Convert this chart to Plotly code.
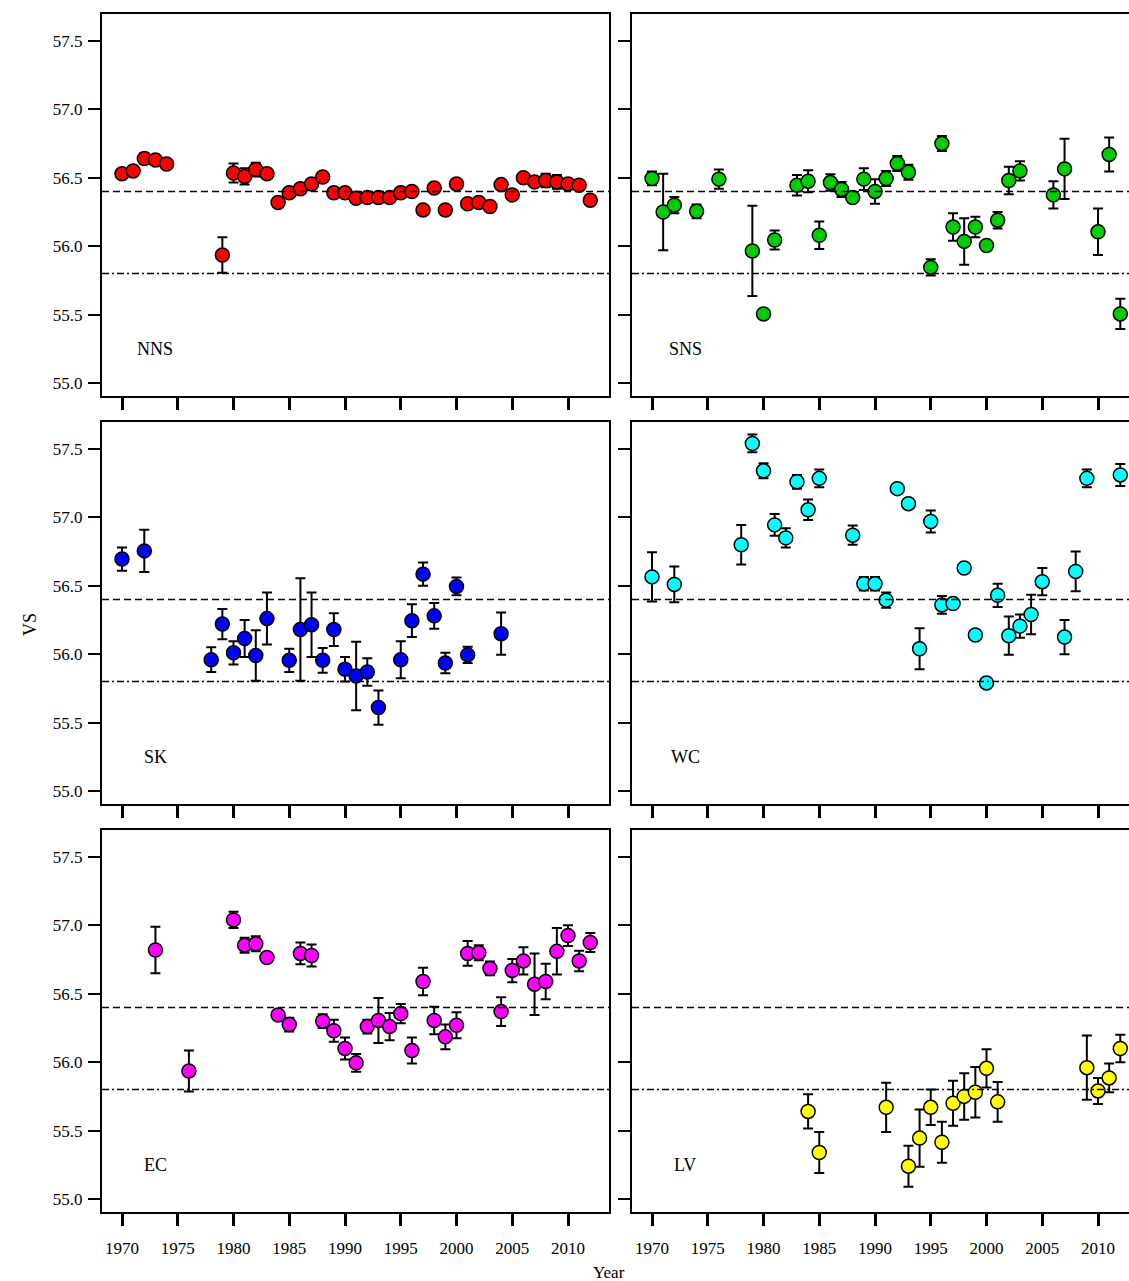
import plotly.graph_objects as go

# ---------------- data ----------------
panel_names = ["NNS", "SNS", "SK", "WC", "EC", "LV"]
panel_colors = ["#FF0000", "#00CD00", "#0000FF", "#00FFFF", "#FF00FF", "#FFFF00"]

nns_year = [1970, 1971, 1972, 1973, 1974, 1979, 1980, 1981, 1982, 1983,
            1984, 1985, 1986, 1987, 1988, 1989, 1990, 1991, 1992, 1993,
            1994, 1995, 1996, 1997, 1998, 1999, 2000, 2001, 2002, 2003,
            2004, 2005, 2006, 2007, 2008, 2009, 2010, 2011, 2012]
nns_vs = [56.53, 56.55, 56.64, 56.63, 56.60, 55.935, 56.535, 56.51, 56.56, 56.53,
          56.32, 56.39, 56.42, 56.455, 56.505, 56.39, 56.39, 56.35, 56.355, 56.355,
          56.355, 56.39, 56.40, 56.265, 56.425, 56.265, 56.455, 56.31, 56.32, 56.29,
          56.45, 56.375, 56.50, 56.47, 56.48, 56.47, 56.455, 56.445, 56.335]
nns_err = [0.02, 0.03, 0.04, 0.02, 0.01, 0.13, 0.07, 0.06, 0.05, 0.02,
           0.01, 0.01, 0.01, 0.01, 0.01, 0.01, 0.01, 0.01, 0.01, 0.01,
           0.01, 0.01, 0.01, 0.01, 0.01, 0.01, 0.01, 0.01, 0.01, 0.01,
           0.01, 0.01, 0.02, 0.03, 0.05, 0.05, 0.03, 0.02, 0.01]

sns_year = [1970, 1971, 1972, 1974, 1976, 1979, 1980, 1981, 1983, 1984,
            1985, 1986, 1987, 1988, 1989, 1990, 1991, 1992, 1993, 1995,
            1996, 1997, 1998, 1999, 2000, 2001, 2002, 2003, 2006, 2007,
            2010, 2011, 2012]
sns_vs = [56.495, 56.25, 56.30, 56.255, 56.49, 55.965, 55.505, 56.045, 56.445, 56.475,
          56.08, 56.465, 56.415, 56.355, 56.49, 56.40, 56.495, 56.605, 56.54, 55.845,
          56.75, 56.14, 56.035, 56.14, 56.005, 56.19, 56.48, 56.55, 56.375, 56.565,
          56.105, 56.67, 55.505]
sns_err = [0.05, 0.28, 0.06, 0.05, 0.07, 0.33, 0.01, 0.07, 0.075, 0.08,
           0.10, 0.06, 0.055, 0.03, 0.08, 0.09, 0.055, 0.055, 0.055, 0.06,
           0.055, 0.10, 0.17, 0.075, 0.01, 0.06, 0.10, 0.07, 0.10, 0.22,
           0.17, 0.125, 0.11]

sk_year = [1970, 1972, 1978, 1979, 1980, 1981, 1982, 1983, 1985, 1986,
           1987, 1988, 1989, 1990, 1991, 1992, 1993, 1995, 1996, 1997,
           1998, 1999, 2000, 2001, 2004]
sk_vs = [56.695, 56.755, 55.96, 56.22, 56.01, 56.115, 55.99, 56.26, 55.955, 56.18,
         56.215, 55.955, 56.18, 55.89, 55.84, 55.87, 55.61, 55.96, 56.245, 56.585,
         56.28, 55.935, 56.495, 55.995, 56.15]
sk_err = [0.085, 0.155, 0.09, 0.11, 0.085, 0.135, 0.185, 0.19, 0.085, 0.375,
          0.235, 0.09, 0.12, 0.09, 0.25, 0.10, 0.125, 0.135, 0.12, 0.085,
          0.095, 0.075, 0.065, 0.06, 0.155]

wc_year = [1970, 1972, 1978, 1979, 1980, 1981, 1982, 1983, 1984, 1985,
           1988, 1989, 1990, 1991, 1992, 1993, 1994, 1995, 1996, 1997,
           1998, 1999, 2000, 2001, 2002, 2003, 2004, 2005, 2007, 2008,
           2009, 2012]
wc_vs = [56.565, 56.51, 56.80, 57.54, 57.34, 56.945, 56.85, 57.26, 57.055, 57.285,
         56.87, 56.515, 56.515, 56.395, 57.21, 57.10, 56.04, 56.97, 56.36, 56.37,
         56.63, 56.14, 55.79, 56.43, 56.135, 56.205, 56.29, 56.53, 56.125, 56.605,
         57.285, 57.31]
wc_err = [0.18, 0.13, 0.145, 0.065, 0.055, 0.08, 0.07, 0.05, 0.075, 0.065,
          0.07, 0.05, 0.05, 0.055, 0.01, 0.02, 0.15, 0.08, 0.065, 0.02,
          0.03, 0.01, 0.02, 0.085, 0.14, 0.085, 0.145, 0.10, 0.125, 0.145,
          0.065, 0.08]

ec_year = [1973, 1976, 1980, 1981, 1982, 1983, 1984, 1985, 1986, 1987,
           1988, 1989, 1990, 1991, 1992, 1993, 1994, 1995, 1996, 1997,
           1998, 1999, 2000, 2001, 2002, 2003, 2004, 2005, 2006, 2007,
           2008, 2009, 2010, 2011, 2012]
ec_vs = [56.82, 55.935, 57.04, 56.855, 56.865, 56.765, 56.345, 56.275, 56.795, 56.78,
         56.30, 56.23, 56.10, 55.995, 56.26, 56.305, 56.26, 56.355, 56.085, 56.59,
         56.305, 56.185, 56.27, 56.795, 56.80, 56.685, 56.37, 56.67, 56.74, 56.57,
         56.59, 56.81, 56.925, 56.74, 56.875]
ec_err = [0.17, 0.15, 0.06, 0.055, 0.055, 0.02, 0.02, 0.05, 0.08, 0.08,
          0.05, 0.08, 0.08, 0.065, 0.05, 0.165, 0.10, 0.07, 0.095, 0.10,
          0.10, 0.09, 0.095, 0.09, 0.055, 0.05, 0.105, 0.085, 0.10, 0.225,
          0.13, 0.17, 0.075, 0.075, 0.07]

lv_year = [1984, 1985, 1991, 1993, 1994, 1995, 1996, 1997, 1998, 1999,
           2000, 2001, 2009, 2010, 2011, 2012]
lv_vs = [55.64, 55.34, 55.67, 55.24, 55.445, 55.67, 55.415, 55.70, 55.75, 55.78,
         55.955, 55.71, 55.96, 55.79, 55.885, 56.10]
lv_err = [0.125, 0.15, 0.18, 0.15, 0.21, 0.13, 0.15, 0.165, 0.17, 0.185,
          0.14, 0.145, 0.235, 0.095, 0.105, 0.10]

ref_dashed = 56.4
ref_dashdot = 55.8
x_ticks = [1970, 1975, 1980, 1985, 1990, 1995, 2000, 2005, 2010]
y_ticks = [55.0, 55.5, 56.0, 56.5, 57.0, 57.5]
y_tick_text = ["55.0", "55.5", "56.0", "56.5", "57.0", "57.5"]

panels = [
    (nns_year, nns_vs, nns_err),
    (sns_year, sns_vs, sns_err),
    (sk_year, sk_vs, sk_err),
    (wc_year, wc_vs, wc_err),
    (ec_year, ec_vs, ec_err),
    (lv_year, lv_vs, lv_err),
]

# ---------------- layout geometry ----------------
W, H = 1129, 1281
FONT = "Liberation Serif"
col_px = [(102, 609), (632, 1129)]
row_px = [(14, 396), (422, 804), (830, 1212)]
x_ranges = [[1968.206, 2013.677], [1968.206, 2012.78]]
y_range = [54.905, 57.697]

fig = go.Figure()
layout = dict(
    width=W, height=H,
    margin=dict(l=0, r=0, t=0, b=0),
    paper_bgcolor="white", plot_bgcolor="white",
    showlegend=False,
    font=dict(family=FONT, size=17, color="black"),
)
shapes = []
annotations = []

for i, (yrs, vals, errs) in enumerate(panels):
    r, c = divmod(i, 2)
    k = i + 1
    xa = "xaxis" if k == 1 else f"xaxis{k}"
    ya = "yaxis" if k == 1 else f"yaxis{k}"
    xr = "x" if k == 1 else f"x{k}"
    yr = "y" if k == 1 else f"y{k}"
    x0, x1 = col_px[c]
    y0, y1 = row_px[r]
    layout[xa] = dict(
        domain=[x0 / W, x1 / W], range=x_ranges[c], anchor=yr,
        showgrid=False, zeroline=False,
        showline=True, linecolor="black", linewidth=2, mirror=True,
        ticks="outside", ticklen=12, tickwidth=2.5, tickcolor="black",
        tickvals=x_ticks, showticklabels=(r == 2),
        ticklabelstandoff=8,
        tickfont=dict(family=FONT, size=17, color="black"),
    )
    layout[ya] = dict(
        domain=[(H - y1) / H, (H - y0) / H], range=y_range, anchor=xr,
        showgrid=False, zeroline=False,
        showline=True, linecolor="black", linewidth=2, mirror=(c == 0),
        ticks="outside", ticklen=12, tickwidth=1.5, tickcolor="black",
        tickvals=y_ticks, ticktext=y_tick_text, showticklabels=(c == 0),
        ticklabelstandoff=2,
        tickfont=dict(family=FONT, size=17, color="black"),
    )
    # reference lines
    shapes.append(dict(type="line", xref=f"{xr} domain", yref=yr,
                       x0=0, x1=1, y0=ref_dashed, y1=ref_dashed,
                       line=dict(color="black", width=1.5, dash="7px,4px")))
    shapes.append(dict(type="line", xref=f"{xr} domain", yref=yr,
                       x0=0, x1=1, y0=ref_dashdot, y1=ref_dashdot,
                       line=dict(color="black", width=1.5, dash="7px,3px,2px,3px")))
    fig.add_trace(go.Scatter(
        x=yrs, y=vals, mode="markers", xaxis=xr, yaxis=yr,
        marker=dict(size=14, color=panel_colors[i],
                    line=dict(color="black", width=1.5)),
        error_y=dict(type="data", array=errs, visible=True,
                     color="black", thickness=2, width=5),
        cliponaxis=False,
    ))
    annotations.append(dict(x=1973, y=55.25, xref=xr, yref=yr,
                            text=panel_names[i], showarrow=False,
                            font=dict(family=FONT, size=18, color="black")))

annotations.append(dict(x=18 / W, y=(H - 625) / H, xref="paper", yref="paper",
                        text="VS", showarrow=False, textangle=-90,
                        font=dict(family=FONT, size=18, color="black")))
annotations.append(dict(x=609 / W, y=0, xref="paper", yref="paper",
                        yanchor="bottom", yshift=-3,
                        text="Year", showarrow=False,
                        font=dict(family=FONT, size=17, color="black")))

layout["shapes"] = shapes
layout["annotations"] = annotations
fig.update_layout(**layout)
fig.write_html("out.html")
